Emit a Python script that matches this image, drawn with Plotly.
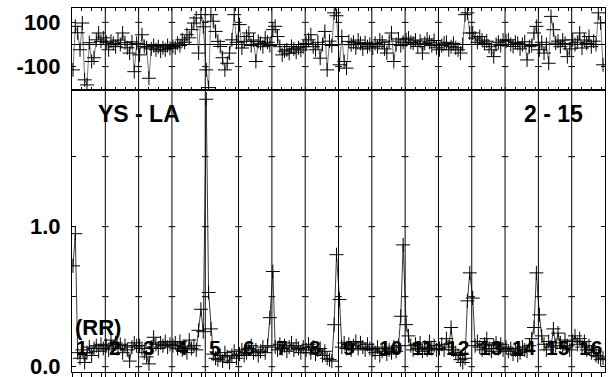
import plotly.graph_objects as go

# ---------------- data ----------------
n_scans = 16
scan_offsets = [0.03, 0.10, 0.17, 0.24, 0.31, 0.38, 0.45, 0.52, 0.59, 0.66, 0.73, 0.80, 0.87, 0.94]

amp_scans = [
    [0.72, 0.95, 0.10, 0.06, 0.12, 0.03, 0.10, 0.14, 0.08, 0.13, 0.15, 0.11, 0.16, 0.13],
    [0.15, 0.12, 0.19, 0.14, 0.17, 0.13, 0.16, 0.10, 0.15, 0.12, 0.04, 0.14, 0.17, 0.15],
    [0.15, 0.13, 0.10, 0.07, 0.02, 0.14, 0.21, 0.16, 0.13, 0.17, 0.15, 0.18, 0.14, 0.16],
    [0.15, 0.17, 0.13, 0.18, 0.12, 0.14, 0.10, 0.19, 0.13, 0.15, 0.12, 0.26, 0.41, 0.25],
    [1.91, 0.53, 0.27, 0.09, 0.06, 0.05, 0.08, 0.04, 0.10, 0.07, 0.03, 0.08, 0.11, 0.06],
    [0.09, 0.12, 0.08, 0.10, 0.13, 0.15, 0.10, 0.12, 0.08, 0.11, 0.14, 0.10, 0.15, 0.35],
    [0.68, 0.14, 0.12, 0.16, 0.13, 0.15, 0.11, 0.14, 0.17, 0.12, 0.15, 0.13, 0.10, 0.14],
    [0.12, 0.16, 0.10, 0.14, 0.09, 0.12, 0.13, 0.08, 0.11, 0.06, 0.05, 0.04, 0.30, 0.80],
    [0.48, 0.14, 0.17, 0.13, 0.16, 0.12, 0.15, 0.18, 0.13, 0.17, 0.14, 0.12, 0.16, 0.13],
    [0.12, 0.10, 0.14, 0.08, 0.11, 0.13, 0.09, 0.12, 0.10, 0.14, 0.11, 0.15, 0.36, 0.87],
    [0.30, 0.22, 0.15, 0.12, 0.16, 0.13, 0.17, 0.11, 0.14, 0.12, 0.18, 0.13, 0.15, 0.12],
    [0.13, 0.16, 0.12, 0.20, 0.14, 0.28, 0.12, 0.10, 0.08, 0.05, 0.03, 0.06, 0.47, 0.67],
    [0.49, 0.15, 0.18, 0.14, 0.12, 0.16, 0.20, 0.13, 0.11, 0.15, 0.17, 0.13, 0.16, 0.12],
    [0.14, 0.11, 0.13, 0.09, 0.12, 0.08, 0.10, 0.14, 0.12, 0.11, 0.15, 0.20, 0.28, 0.67],
    [0.37, 0.22, 0.16, 0.12, 0.18, 0.14, 0.27, 0.15, 0.24, 0.17, 0.13, 0.19, 0.15, 0.12],
    [0.18, 0.22, 0.16, 0.20, 0.14, 0.18, 0.12, 0.15, 0.10, 0.12, 0.08, 0.07, 0.05, 0.06],
]

phase_scans = [
    [-115, 82, 53, -24, 97, -160, -183, 8, -77, -60, 21, 52, 14, 30],
    [10, -24, 15, 5, -10, 20, 0, 52, 8, -15, -39, 12, -123, 5],
    [-47, 44, -9, -15, -153, -20, -5, -24, -10, -30, -15, -24, -5, -18],
    [-9, -15, 6, -5, 21, 10, 44, 30, 67, 97, 120, -39, 135, 80],
    [-115, -195, 135, 105, 59, 14, -9, -60, -115, -85, -39, 21, 135, 10],
    [90, -16, 14, 36, 52, -5, 20, -77, 14, 5, -10, 30, 10, -5],
    [67, 82, 36, -10, -47, -30, -24, -40, -9, -20, -35, -15, -25, -10],
    [5, 21, 44, -10, -24, 10, -62, 0, 59, -115, 15, -5, 143, 130],
    [-92, 36, -77, -107, 14, -1, 10, -15, 20, 5, -20, 8, -10, 0],
    [-16, 5, -10, 21, 10, -20, -39, 15, 52, -77, 0, 25, -5, 10],
    [21, 29, 10, 6, 20, -9, 15, -39, 5, 25, 10, -5, 18, -15],
    [-24, -5, 6, 10, -24, -10, 5, -15, -24, -39, 0, 135, 143, 52],
    [52, 29, 10, 36, 20, 5, 15, -10, -24, -55, 0, 10, -5, 20],
    [15, 21, 0, -9, 10, 5, -20, 0, 12, -70, -10, -5, 52, 82],
    [-24, 10, -39, 0, -85, 127, 67, 6, 15, -10, 20, 5, -55, -20],
    [21, 0, 10, 52, -16, 20, 5, 36, -10, 15, 0, 143, 97, -92],
]

scan_labels = [str(i + 1) for i in range(n_scans)]
amp_tickvals = [0.0, 0.5, 1.0, 1.5]
amp_ticktext = ["0.0", "", "1.0", ""]
phase_tickvals = [-100, 100]
phase_ticktext = ["-100", "100"]
time_minor = [0.0, 0.3, 0.6, 0.9]
baseline_label = "YS - LA"
ant_label = "2 - 15"
pol_label = "(RR)"

# ---------------- build ----------------
t = []
amp = []
ph = []
for s in range(n_scans):
    for j, f in enumerate(scan_offsets):
        t.append(s + f)
        amp.append(amp_scans[s][j])
        ph.append(phase_scans[s][j])

x_ticks = [s + m for s in range(n_scans) for m in time_minor]

FONT = "Liberation Sans, Arial, Helvetica, sans-serif"
marker = dict(symbol="cross-thin", size=10, line=dict(color="black", width=1), color="black")

fig = go.Figure()
fig.add_trace(go.Scatter(x=t, y=amp, mode="lines+markers", xaxis="x", yaxis="y",
                         line=dict(color="#3a3a3a", width=1), marker=marker, showlegend=False))
fig.add_trace(go.Scatter(x=t, y=ph, mode="lines+markers", xaxis="x2", yaxis="y2",
                         line=dict(color="#555555", width=0.8), marker=marker, showlegend=False))

split = 0.7747
tickfont = dict(family=FONT, size=22, color="black", weight="bold")

shapes = []
for s in range(1, n_scans):
    shapes.append(dict(type="line", xref="x", yref="paper", x0=s, x1=s, y0=0, y1=1,
                       line=dict(color="black", width=1)))
    for v in amp_tickvals:
        shapes.append(dict(type="line", xref="x", yref="y", x0=s - 0.1, x1=s + 0.1, y0=v, y1=v,
                           line=dict(color="black", width=1)))
    for v in phase_tickvals:
        shapes.append(dict(type="line", xref="x2", yref="y2", x0=s - 0.1, x1=s + 0.1, y0=v, y1=v,
                           line=dict(color="black", width=1)))

annotations = [
    dict(x=0.73, y=1.807, xref="x", yref="y", text=baseline_label, showarrow=False,
         xanchor="left", yanchor="middle", font=dict(family=FONT, size=23, color="black", weight="bold")),
    dict(x=13.5, y=1.807, xref="x", yref="y", text=ant_label, showarrow=False,
         xanchor="left", yanchor="middle", font=dict(family=FONT, size=23, color="black", weight="bold")),
    dict(x=0.03, y=0.28, xref="x", yref="y", text=pol_label, showarrow=False,
         xanchor="left", yanchor="middle", font=dict(family=FONT, size=22, color="black", weight="bold")),
]
for i, lab in enumerate(scan_labels):
    off = 0.06 if len(lab) == 1 else 0.16
    annotations.append(dict(x=i + off, y=0.14, xref="x", yref="y", text=lab, showarrow=False,
                            xanchor="left", yanchor="middle",
                            font=dict(family=FONT, size=21, color="black", weight="bold")))

fig.update_layout(
    width=613, height=377,
    margin=dict(l=72, r=8, t=8, b=5, autoexpand=False),
    paper_bgcolor="white", plot_bgcolor="white",
    xaxis=dict(domain=[0, 1], anchor="y", range=[0, n_scans], tickvals=x_ticks, ticks="outside",
               ticklen=5, tickcolor="black", showticklabels=False, showline=True, linecolor="black",
               linewidth=1, mirror=True, showgrid=False, zeroline=False, automargin=False),
    xaxis3=dict(overlaying="x", anchor="y", side="top", range=[0, n_scans], tickvals=x_ticks,
                ticks="inside", ticklen=3, tickcolor="black", showticklabels=False, showline=False,
                showgrid=False, zeroline=False, automargin=False),
    yaxis=dict(domain=[0, split], anchor="x", range=[-0.038, 1.976], tickvals=amp_tickvals,
               ticktext=amp_ticktext, ticks="inside", ticklen=4, tickcolor="black", mirror="ticks",
               showline=True, linecolor="black", showgrid=False, zeroline=False, tickfont=tickfont,
               ticklabelstandoff=6, ticklabeloverflow="allow", automargin=False),
    xaxis2=dict(domain=[0, 1], anchor="y2", matches="x", range=[0, n_scans], tickvals=x_ticks,
                ticks="inside", ticklen=3, tickcolor="black", mirror="ticks", showticklabels=False,
                showline=True, linecolor="black", showgrid=False, zeroline=False, automargin=False),
    yaxis2=dict(domain=[split, 1], anchor="x2", range=[-206, 165], tickvals=phase_tickvals,
                ticktext=phase_ticktext, ticks="inside", ticklen=4, tickcolor="black", mirror="ticks",
                showline=True, linecolor="black", showgrid=False, zeroline=True, zerolinecolor="black",
                zerolinewidth=1, tickfont=tickfont, ticklabelstandoff=6, ticklabeloverflow="allow",
                automargin=False),
    shapes=shapes,
    annotations=annotations,
)

fig.write_html("out.html", config={"displayModeBar": False},
               post_script="document.body.style.margin='0';")
